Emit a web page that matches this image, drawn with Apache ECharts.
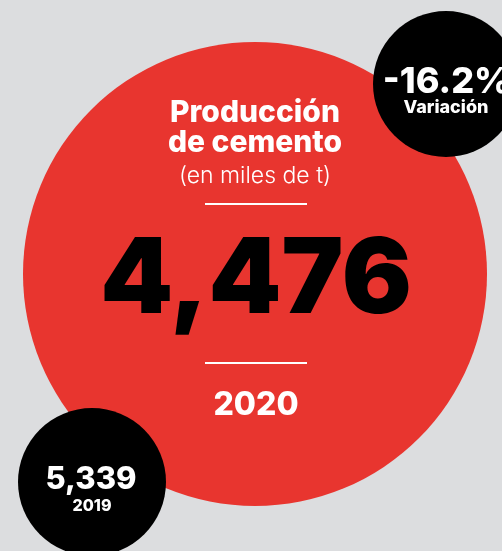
<!DOCTYPE html>
<html>
<head>
<meta charset="utf-8">
<script src="https://cdn.jsdelivr.net/npm/echarts@6/dist/echarts.min.js"></script>
<style>
html,body{margin:0;padding:0;background:#dcdddf;}
#c{width:502px;height:551px;}
</style>
</head>
<body>
<div id="c"></div>
<script>
// Data
const years = ['2019', '2020'];
const production = [5339, 4476]; // miles de t
const variation = [-16.2]; // %
const titleLines = ['Producción', 'de cemento'];
const unitLabel = '(en miles de t)';
const variationLabel = 'Variación';

const fmt = v => v.toLocaleString('en-US');
const FONT = 'Inter, "Noto Sans", sans-serif';

const chart = echarts.init(document.getElementById('c'), null, {renderer: 'canvas'});

// bubbles drawn as scatter on hidden pixel-space axes
const bubbles = [
  {name: years[1], value: [255, 274], size: 464, color: '#e8352f'},
  {name: 'var', value: [446, 84], size: 146, color: '#000000'},
  {name: years[0], value: [92, 482], size: 148, color: '#000000'}
];

const option = {
  backgroundColor: '#dcdddf',
  animation: false,
  grid: {left: 0, right: 0, top: 0, bottom: 0},
  xAxis: {type: 'value', min: 0, max: 502, show: false},
  yAxis: {type: 'value', min: 0, max: 551, inverse: true, show: false},
  series: [{
    type: 'scatter',
    silent: true,
    data: bubbles.map(b => ({
      name: b.name,
      value: b.value,
      symbolSize: b.size,
      itemStyle: {color: b.color, opacity: 1}
    }))
  }],
  graphic: [
    {type: 'text', x: 255, y: 113, z: 10, style: {text: titleLines[0], fill: '#fff', font: '800 30px ' + FONT, align: 'center', verticalAlign: 'middle'}},
    {type: 'text', x: 255, y: 143, z: 10, style: {text: titleLines[1], fill: '#fff', font: '800 30px ' + FONT, align: 'center', verticalAlign: 'middle'}},
    {type: 'text', x: 255, y: 176, z: 10, style: {text: unitLabel, fill: '#fff', font: '300 23px ' + FONT, align: 'center', verticalAlign: 'middle'}},
    {type: 'line', z: 10, shape: {x1: 205, y1: 204, x2: 307, y2: 204}, style: {stroke: '#fff', lineWidth: 2}},
    {type: 'text', x: 256, y: 282, z: 10, style: {text: fmt(production[1]), fill: '#000', font: '900 104px ' + FONT, align: 'center', verticalAlign: 'middle'}},
    {type: 'line', z: 10, shape: {x1: 205, y1: 363, x2: 307, y2: 363}, style: {stroke: '#fff', lineWidth: 2}},
    {type: 'text', x: 256, y: 405, z: 10, style: {text: years[1], fill: '#fff', font: '800 32px ' + FONT, align: 'center', verticalAlign: 'middle'}},
    {type: 'text', x: 447, y: 82, z: 10, style: {text: variation[0].toFixed(1) + '%', fill: '#fff', font: '800 36px ' + FONT, align: 'center', verticalAlign: 'middle'}},
    {type: 'text', x: 446, y: 108, z: 10, style: {text: variationLabel, fill: '#fff', font: '800 18px ' + FONT, align: 'center', verticalAlign: 'middle'}},
    {type: 'text', x: 91, y: 480, z: 10, style: {text: fmt(production[0]), fill: '#fff', font: '800 31px ' + FONT, align: 'center', verticalAlign: 'middle'}},
    {type: 'text', x: 92, y: 506, z: 10, style: {text: years[0], fill: '#fff', font: '800 16px ' + FONT, align: 'center', verticalAlign: 'middle'}}
  ]
};
chart.setOption(option);
</script>
</body>
</html>
